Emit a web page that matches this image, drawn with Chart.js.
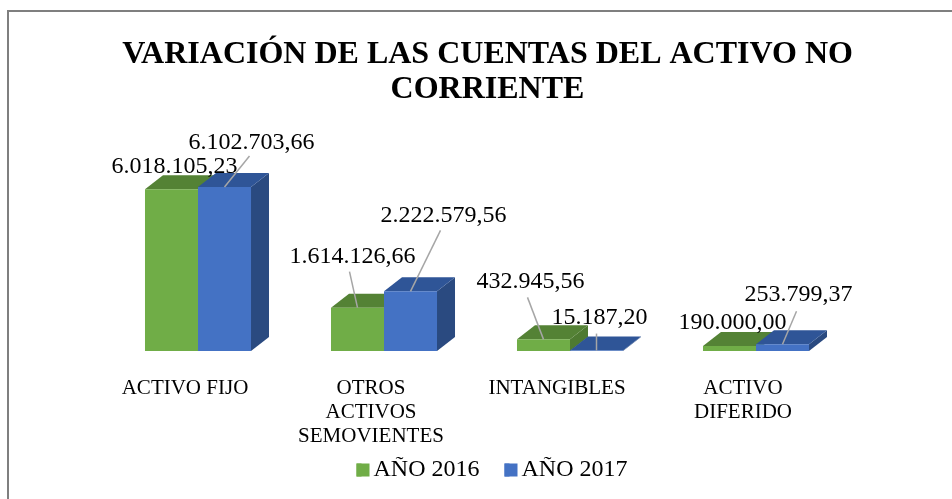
<!DOCTYPE html>
<html lang="es">
<head>
<meta charset="utf-8">
<title>Variación de las cuentas del activo no corriente</title>
<script src="https://cdn.jsdelivr.net/npm/chart.js@4"></script>
<style>
    html, body { margin: 0; padding: 0; background: #fff; overflow: hidden; }
    #wrap { position: relative; width: 952px; height: 499px; }
    #frame {
        position: absolute; left: 7px; top: 10px; right: 0; bottom: 0;
        border-left: 2px solid #7f7f7f; border-top: 2px solid #7f7f7f;
    }
    canvas { position: absolute; left: 0; top: 0; }
</style>
</head>
<body>
<div id="wrap">
    <div id="frame"></div>
    <canvas id="chart" width="952" height="499"></canvas>
</div>
<script>
'use strict';

/* ── Data ── */
const categories = [['ACTIVO FIJO'], ['OTROS', 'ACTIVOS', 'SEMOVIENTES'], ['INTANGIBLES'], ['ACTIVO', 'DIFERIDO']];
const values2016 = [6018105.23, 1614126.66, 432945.56, 190000.00];
const values2017 = [6102703.66, 2222579.56, 15187.20, 253799.37];
const titleLines = ['VARIACIÓN DE LAS CUENTAS DEL ACTIVO NO', 'CORRIENTE'];

/* ── Style ── */
const SERIF = "'Liberation Serif', 'Times New Roman', serif";
const DEPTH_X = 18;
const DEPTH_Y = 14;
const SWATCH = 13;
const LEADER_COLOR = '#A6A6A6';
const FACES = [
    { front: '#70AD47', top: '#548235', side: '#4E7A31' },
    { front: '#4472C4', top: '#2F5597', side: '#2A4A80' },
];

const fmt = v => v.toLocaleString('de-DE', { minimumFractionDigits: 2, maximumFractionDigits: 2 });

/* ── Label offsets per dataset and category, from the top centre of the bar ── */
const labelOffsets = [
    [
        { dx: 3, dy: -23 },
        { dx: -5, dy: -51, lx: -8, ly: -36 },
        { dx: -13, dy: -58, lx: -16, ly: -42 },
        { dx: 3, dy: -23 },
    ],
    [
        { dx: 27, dy: -44, lx: 25, ly: -31 },
        { dx: 33, dy: -76, lx: 30, ly: -61 },
        { dx: 3, dy: -33, lx: 0, ly: -17 },
        { dx: 16, dy: -49, lx: 14, ly: -33 },
    ],
];

/* ── 3D faces, built from the bar elements ── */
const depthFaces = {
    id: 'depthFaces',
    beforeDatasetsDraw(chart) {
        const { ctx } = chart;
        FACES.forEach((face, d) => {
            chart.getDatasetMeta(d).data.forEach(bar => {
                const l = bar.x - bar.width / 2;
                const r = bar.x + bar.width / 2;
                const t = bar.y;
                const b = bar.base;
                ctx.fillStyle = face.side;
                ctx.beginPath();
                ctx.moveTo(r, t);
                ctx.lineTo(r + DEPTH_X, t - DEPTH_Y);
                ctx.lineTo(r + DEPTH_X, b - DEPTH_Y);
                ctx.lineTo(r, b);
                ctx.closePath();
                ctx.fill();
                ctx.fillStyle = face.top;
                ctx.beginPath();
                ctx.moveTo(l, t);
                ctx.lineTo(l + DEPTH_X, t - DEPTH_Y);
                ctx.lineTo(r + DEPTH_X, t - DEPTH_Y);
                ctx.lineTo(r, t);
                ctx.closePath();
                ctx.fill();
            });
        });
    },
};

/* ── Value labels with leader lines ── */
const valueLabels = {
    id: 'valueLabels',
    afterDatasetsDraw(chart) {
        const { ctx } = chart;
        chart.data.datasets.forEach((ds, d) => {
            chart.getDatasetMeta(d).data.forEach((bar, i) => {
                const o = labelOffsets[d][i];
                if (o.lx !== undefined) {
                    ctx.strokeStyle = LEADER_COLOR;
                    ctx.lineWidth = 1.5;
                    ctx.beginPath();
                    ctx.moveTo(bar.x, bar.y);
                    ctx.lineTo(bar.x + o.lx, bar.y + o.ly);
                    ctx.stroke();
                }
                ctx.fillStyle = '#000';
                ctx.font = '24px ' + SERIF;
                ctx.textAlign = 'center';
                ctx.textBaseline = 'middle';
                ctx.fillText(fmt(ds.data[i]), bar.x + o.dx, bar.y + o.dy);
            });
        });
    },
};

/* ── Legend: wide item gap without the tall box, swatches close to the text ── */
const legendTweaks = {
    id: 'legendTweaks',
    beforeLayout(chart) {
        const legend = chart.legend;
        if (legend._fitWrapped) return;
        const fit = legend.fit;
        legend.fit = function () {
            fit.call(this);
            this.height = 44;
        };
        legend._fitWrapped = true;
    },
    afterLayout(chart) {
        chart.legend.left += 9;
        chart.legend.top -= 15;
    },
    afterDraw(chart) {
        const { ctx } = chart;
        chart.legend.legendHitBoxes.forEach((box, d) => {
            ctx.fillStyle = FACES[d].front;
            ctx.fillRect(box.left, box.top + (box.height - SWATCH) / 2, SWATCH, SWATCH);
        });
    },
};

const hiddenAxis = (position, width) => ({
    type: 'linear',
    position,
    min: 0,
    max: 8600000,
    grid: { display: false },
    border: { display: false },
    ticks: { display: false },
    afterFit(scale) { scale.width = width; },
});

new Chart(document.getElementById('chart'), {
    type: 'bar',
    data: {
        labels: categories,
        datasets: [
            { label: 'AÑO 2016', data: values2016, backgroundColor: FACES[0].front, borderWidth: 0 },
            { label: 'AÑO 2017', data: values2017, backgroundColor: FACES[1].front, borderWidth: 0 },
        ],
    },
    options: {
        responsive: false,
        animation: false,
        datasets: { bar: { barPercentage: 1, categoryPercentage: 0.57 } },
        layout: { padding: { left: 23, right: 0, top: 37, bottom: 7 } },
        plugins: {
            tooltip: { enabled: false },
            title: {
                display: true,
                text: titleLines,
                color: '#000',
                font: { family: SERIF, size: 32, weight: 'bold', lineHeight: 1.094 },
                padding: { top: 0, bottom: 13 },
            },
            legend: {
                display: true,
                position: 'bottom',
                labels: {
                    color: '#000',
                    font: { family: SERIF, size: 24 },
                    boxWidth: 5,
                    boxHeight: 13,
                    padding: 25,
                },
            },
        },
        scales: {
            x: {
                grid: { display: false },
                border: { display: false },
                ticks: {
                    color: '#000',
                    font: { family: SERIF, size: 21, lineHeight: 1.13 },
                    padding: 18,
                    labelOffset: -13,
                    maxRotation: 0,
                    autoSkip: false,
                },
                afterFit(scale) { scale.height = 97; },
            },
            y: hiddenAxis('left', 82),
            yRight: hiddenAxis('right', 103),
        },
    },
    plugins: [depthFaces, valueLabels, legendTweaks],
});
</script>
</body>
</html>
